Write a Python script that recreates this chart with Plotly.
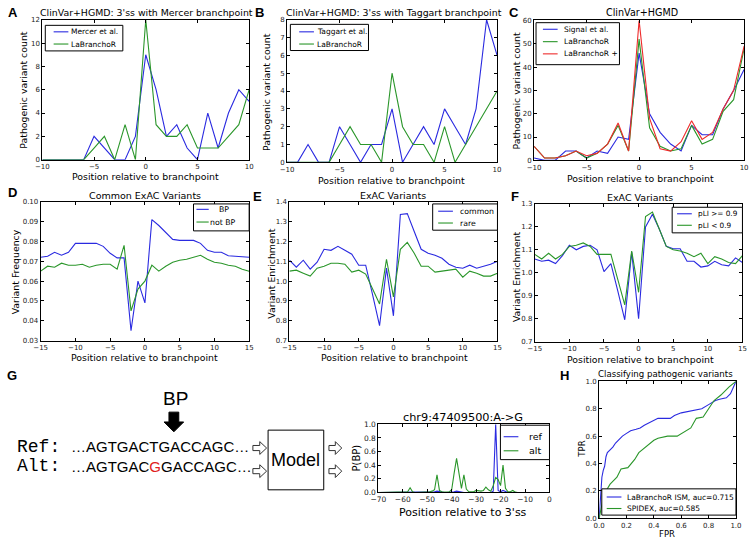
import plotly.graph_objects as go

W, H = 756, 544
BLUE = '#2a2ae0'
GREEN = '#2a962a'
RED = '#ee2b2b'
FONT = 'DejaVu Sans'
SANS = 'Liberation Sans'
MONO = 'Liberation Mono'

# ---------------- data ----------------
pos_10 = [-10, -9, -8, -7, -6, -5, -4, -3, -2, -1, 0, 1, 2, 3, 4, 5, 6, 7, 8, 9, 10]
a_mercer = [0, 0, 0, 0, 0, 2, 1, 0, 0, 2, 9, 6, 2, 3, 1, 0, 4, 1, 4, 6, 5]
a_labranchor = [0, 0, 0, 0, 0, 1, 2, 0, 3, 0, 12, 3, 2, 2, 3, 1, 1, 1, 2, 3, 6]
b_taggart = [0, 0, 1, 0, 0, 2, 1, 0, 1, 1, 3, 0, 1, 2, 1, 3, 2, 1, 3, 8, 6]
b_labranchor = [0, 0, 0, 0, 0, 1, 2, 1, 1, 0, 5, 2, 1, 1, 0, 2, 0, 1, 2, 3, 4]
c_signal = [1, 0, 0, 4, 4, 1, 4, 3, 10, 9, 46, 20, 12, 7, 4, 15, 11, 11, 22, 30, 39]
c_labranchor = [6, 1, 1, 2, 4, 1, 3, 7, 15, 4, 52, 14, 6, 4, 5, 15, 7, 9, 21, 26, 48]
c_labranchor_plus = [6, 1, 1, 2, 4, 2, 3, 7, 16, 4, 60, 18, 5, 4, 8, 17, 9, 12, 22, 30, 49]

pos_15 = [-15, -14, -13, -12, -11, -10, -9, -8, -7, -6, -5, -4, -3, -2, -1, 0,
          1, 2, 3, 4, 5, 6, 7, 8, 9, 10, 11, 12, 13, 14, 15]
d_bp = [0.072, 0.0725, 0.0745, 0.073, 0.0745, 0.079, 0.079, 0.079, 0.079, 0.0775,
        0.074, 0.0717, 0.0717, 0.035, 0.060, 0.049, 0.091, 0.088, 0.0845, 0.081,
        0.0805, 0.0805, 0.0805, 0.079, 0.0755, 0.0745, 0.0745, 0.0728, 0.0725, 0.072, 0.072]
d_not_bp = [0.065, 0.0675, 0.067, 0.069, 0.068, 0.068, 0.0685, 0.067, 0.068, 0.0685,
            0.0685, 0.066, 0.078, 0.045, 0.056, 0.060, 0.068, 0.065, 0.0675, 0.0695,
            0.0705, 0.071, 0.072, 0.073, 0.071, 0.0695, 0.069, 0.068, 0.0675, 0.066, 0.065]
e_common = [1.105, 1.07, 1.105, 1.06, 1.095, 1.16, 1.155, 1.175, 1.155, 1.135,
            1.08, 1.08, 0.93, 0.775, 1.065, 0.825, 1.335, 1.34, 1.25, 1.16,
            1.14, 1.13, 1.115, 1.085, 1.07, 1.065, 1.08, 1.065, 1.075, 1.085, 1.10]
e_rare = [1.05, 1.055, 1.04, 1.025, 1.065, 1.075, 1.09, 1.09, 1.085, 1.045,
          1.055, 1.035, 0.96, 0.885, 1.11, 0.92, 1.16, 1.195, 1.14, 1.075,
          1.075, 1.045, 1.05, 1.055, 1.06, 1.02, 1.05, 1.04, 1.025, 1.025, 1.04]
f_pli_high = [1.06, 1.05, 1.055, 1.04, 1.075, 1.12, 1.10, 1.115, 1.12, 1.10,
              1.005, 1.04, 0.92, 0.795, 1.09, 0.80, 1.20, 1.255, 1.19, 1.115,
              1.105, 1.105, 1.05, 1.05, 1.025, 1.03, 1.05, 1.035, 1.03, 1.065, 1.045]
f_pli_low = [1.08, 1.06, 1.085, 1.06, 1.08, 1.115, 1.12, 1.13, 1.115, 1.08,
             1.08, 1.08, 0.97, 0.86, 1.095, 0.915, 1.245, 1.265, 1.19, 1.115,
             1.10, 1.095, 1.085, 1.07, 1.085, 1.04, 1.07, 1.06, 1.045, 1.04, 1.075]

pos_3ss = [-70, -69, -68, -67, -66, -65, -64, -63, -62, -61, -60, -59, -58, -57, -56, -55,
           -54, -53, -52, -51, -50, -49, -48, -47, -46, -45, -44, -43, -42, -41, -40, -39,
           -38, -37, -36, -35, -34, -33, -32, -31, -30, -29, -28, -27, -26, -25, -24, -23,
           -22, -21, -20, -19, -18, -17, -16, -15, -14, -13, -12, -11, -10, -9, -8, -7,
           -6, -5, -4, -3, -2, -1, 0]
g_ref = [0, 0, 0, 0, 0, 0, 0, 0, 0, 0, 0, 0, 0, 0, 0, 0,
         0, 0, 0, 0, 0, 0, 0, 0.01, 0.02, 0.01, 0, 0, 0, 0, 0, 0.01,
         0.02, 0.01, 0, 0, 0, 0, 0, 0, 0.01, 0, 0, 0, 0.01, 0, 0, 0.02,
         1.0, 0.03, 0.01, 0.03, 0.01, 0, 0, 0, 0, 0, 0, 0, 0, 0, 0, 0,
         0, 0, 0, 0, 0, 0, 0]
g_alt = [0, 0, 0, 0, 0, 0, 0, 0, 0, 0, 0, 0, 0.01, 0.07, 0.01, 0,
         0, 0.005, 0, 0, 0.005, 0.01, 0.02, 0.04, 0.26, 0.03, 0.01, 0.005, 0.005, 0.01, 0.04, 0.28,
         0.50, 0.28, 0.06, 0.26, 0.05, 0.01, 0.01, 0.01, 0.03, 0.02, 0.02, 0.03, 0.08, 0.04, 0.02, 0.10,
         0.22, 0.19, 0.10, 0.40, 0.06, 0.01, 0.01, 0.03, 0.005, 0, 0, 0, 0, 0, 0, 0,
         0, 0, 0, 0, 0, 0, 0]

h_ism_fpr = [0, 0.005, 0.01, 0.02, 0.03, 0.04, 0.05, 0.06, 0.08, 0.10, 0.12, 0.15, 0.17, 0.20,
             0.23, 0.27, 0.30, 0.33, 0.37, 0.40, 0.43, 0.52, 0.55, 0.60, 0.65, 0.70, 0.75,
             0.80, 0.85, 0.88, 0.93, 0.96, 0.98, 1.0]
h_ism_tpr = [0, 0.08, 0.2, 0.3, 0.35, 0.38, 0.45, 0.48, 0.50, 0.52, 0.55, 0.58, 0.60, 0.62,
             0.64, 0.65, 0.66, 0.68, 0.70, 0.71, 0.73, 0.73, 0.75, 0.77, 0.78, 0.79, 0.80,
             0.83, 0.86, 0.87, 0.88, 0.91, 0.95, 1.0]
h_spidex_fpr = [0, 0.01, 0.03, 0.05, 0.08, 0.13, 0.16, 0.21, 0.26, 0.29, 0.35, 0.40, 0.43,
                0.50, 0.57, 0.62, 0.67, 0.71, 0.76, 0.80, 0.84, 0.89, 0.95, 1.0]
h_spidex_tpr = [0, 0.05, 0.15, 0.2, 0.25, 0.30, 0.36, 0.37, 0.43, 0.48, 0.53, 0.57, 0.585,
                0.60, 0.60, 0.63, 0.66, 0.73, 0.74, 0.80, 0.86, 0.90, 0.96, 1.0]

# ---------------- helpers ----------------
def fx(p):
    return p / W


def fy(p):
    return 1 - p / H


fig = go.Figure()
shapes = []
annotations = []

common_axis = dict(showline=True, linecolor='black', linewidth=1, mirror='ticks',
                   ticks='inside', ticklen=3, tickcolor='black', tickwidth=1,
                   showgrid=False, zeroline=False, ticklabeloverflow='allow')


def add_axes(n, xpx, ypx, xr, xt, yr, yt, xfmt=None, yfmt=None, tsize=7):
    sx = '' if n == 1 else str(n)
    tf = dict(family=FONT, size=tsize, color='#222')
    xa = dict(common_axis, domain=[fx(xpx[0]), fx(xpx[1])], range=xr, tickvals=xt,
              anchor='y' + sx, tickfont=tf)
    ya = dict(common_axis, domain=[fy(ypx[1]), fy(ypx[0])], range=yr, tickvals=yt,
              anchor='x' + sx, tickfont=tf)
    if xfmt:
        xa['tickformat'] = xfmt
    if yfmt:
        ya['tickformat'] = yfmt
    fig.update_layout(**{'xaxis' + sx: xa, 'yaxis' + sx: ya})


def line(n, x, y, color, name):
    sx = '' if n == 1 else str(n)
    fig.add_trace(go.Scatter(x=x, y=y, mode='lines', name=name, showlegend=False,
                             line=dict(color=color, width=1.1),
                             xaxis='x' + sx, yaxis='y' + sx))


def text(t, x, y, size, family=FONT, xanchor='center', angle=0, bold=False, color='black'):
    if bold:
        t = '<b>' + t + '</b>'
    annotations.append(dict(text=t, x=fx(x), y=fy(y), xref='paper', yref='paper',
                            showarrow=False, xanchor=xanchor, yanchor='middle',
                            textangle=angle, font=dict(family=family, size=size, color=color)))


def legend(box, entries, size, lx, tx):
    x0, y0, x1, y1 = box
    shapes.append(dict(type='rect', xref='paper', yref='paper', x0=fx(x0), x1=fx(x1),
                       y0=fy(y1), y1=fy(y0), line=dict(color='black', width=1),
                       fillcolor='white', layer='above'))
    for i, (label, color, ly) in enumerate(entries):
        shapes.append(dict(type='line', xref='paper', yref='paper', x0=fx(lx[0]), x1=fx(lx[1]),
                           y0=fy(ly), y1=fy(ly), line=dict(color=color, width=1.1), layer='above'))
        t = tx[i] if isinstance(tx, (list, tuple)) else tx
        text(label, t, ly, size, xanchor='left')


def hollow_arrow(x0, x1, yc, h):
    xm = x0 + (x1 - x0) * 0.5
    s = h * 0.2
    pts = [(x0, yc - s), (xm, yc - s), (xm, yc - h / 2), (x1, yc), (xm, yc + h / 2),
           (xm, yc + s), (x0, yc + s)]
    path = 'M ' + ' L '.join(f'{fx(a):.5f},{fy(b):.5f}' for a, b in pts) + ' Z'
    shapes.append(dict(type='path', xref='paper', yref='paper', path=path,
                       line=dict(color='#333', width=1), fillcolor='white'))


# ---------------- panel A ----------------
add_axes(1, (35, 245.7), (16, 158.3), [-10, 10], [-10, -5, 0, 5, 10], [0, 12], [0, 2, 4, 6, 8, 10, 12])
line(1, pos_10, a_mercer, BLUE, 'Mercer et al.')
line(1, pos_10, a_labranchor, GREEN, 'LaBranchoR')
text("ClinVar+HGMD: 3'ss with Mercer branchpoint", 141, 8.5, 9.4)
text('Position relative to branchpoint', 140, 175.5, 9.4)
text('Pathogenic variant count', 15, 87.5, 9.4, angle=-90)
legend((38, 21.7, 117, 47.7), [('Mercer et al.', BLUE, 28.3), ('LaBranchoR', GREEN, 40.7)],
       7.5, (46.5, 61.5), 62)

# ---------------- panel B ----------------
add_axes(2, (284.3, 498.3), (16, 161), [-10, 10], [-10, -5, 0, 5, 10], [0, 8], [0, 1, 2, 3, 4, 5, 6, 7, 8])
line(2, pos_10, b_taggart, BLUE, 'Taggart et al.')
line(2, pos_10, b_labranchor, GREEN, 'LaBranchoR')
text("ClinVar+HGMD: 3'ss with Taggart branchpoint", 393, 8.5, 9.4)
text('Position relative to branchpoint', 391, 179.3, 9.4)
text('Pathogenic variant count', 263.3, 89, 9.4, angle=-90)
legend((287.7, 20.7, 367.3, 47.3), [('Taggart et al.', BLUE, 28.3), ('LaBranchoR', GREEN, 40.7)],
       7.5, (296.7, 311.7), 312.5)

# ---------------- panel C ----------------
add_axes(3, (536, 750), (16.7, 159), [-10, 10], [-10, -5, 0, 5, 10], [0, 60], [0, 10, 20, 30, 40, 50, 60])
line(3, pos_10, c_signal, BLUE, 'Signal et al.')
line(3, pos_10, c_labranchor, GREEN, 'LaBranchoR')
line(3, pos_10, c_labranchor_plus, RED, 'LaBranchoR +')
text('ClinVar+HGMD', 646, 8.8, 9.6)
text('Position relative to branchpoint', 644, 177, 9.4)
text('Pathogenic variant count', 518.3, 88.3, 9.4, angle=-90)
legend((538, 19, 623, 61.7), [('Signal et al.', BLUE, 25.7), ('LaBranchoR', GREEN, 38.3),
                              ('LaBranchoR +', RED, 50.7)], 7.5, (545, 560), 564)

# ---------------- panel D ----------------
add_axes(4, (33.3, 245.7), (201, 342.3), [-15, 15], [-15, -10, -5, 0, 5, 10, 15], [0.03, 0.10],
         [0.03, 0.04, 0.05, 0.06, 0.07, 0.08, 0.09, 0.10], yfmt='.2f')
line(4, pos_15, d_bp, BLUE, 'BP')
line(4, pos_15, d_not_bp, GREEN, 'not BP')
text('Common ExAC Variants', 140, 195, 9.5)
text('Position relative to branchpoint', 139, 359, 9.4)
text('Variant Frequency', 8.5, 272.5, 9.4, angle=-90)
legend((189, 203.3, 245.7, 230.7), [('BP', BLUE, 208.8), ('not BP', GREEN, 221.7)],
       7.8, (192, 204.5), [212.5, 203.5])

# ---------------- panel E ----------------
add_axes(5, (286.7, 498.7), (201, 342.3), [-15, 15], [-15, -10, -5, 0, 5, 10, 15], [0.7, 1.4],
         [0.7, 0.8, 0.9, 1.0, 1.1, 1.2, 1.3, 1.4], yfmt='.1f')
line(5, pos_15, e_common, BLUE, 'common')
line(5, pos_15, e_rare, GREEN, 'rare')
text('ExAC Variants', 392, 195, 9.5)
text('Position relative to branchpoint', 394, 359.5, 9.4)
text('Variant Enrichment', 268.3, 274, 9.4, angle=-90)
legend((432.7, 203.3, 498.7, 230), [('common', BLUE, 210.7), ('rare', GREEN, 222.7)],
       7.8, (438.3, 453.3), 458.3)

# ---------------- panel F ----------------
add_axes(6, (536.7, 748.3), (203.3, 343.3), [-15, 15], [-15, -10, -5, 0, 5, 10, 15], [0.7, 1.3],
         [0.7, 0.8, 0.9, 1.0, 1.1, 1.2, 1.3], yfmt='.1f')
line(6, pos_15, f_pli_high, BLUE, 'pLI >= 0.9')
line(6, pos_15, f_pli_low, GREEN, 'pLI < 0.9')
text('ExAC Variants', 644, 196.7, 9.5)
text('Position relative to branchpoint', 644, 361, 9.4)
text('Variant Enrichment', 518.3, 278, 9.4, angle=-90)
legend((676.7, 206.7, 748.3, 232.7), [('pLI &gt;= 0.9', BLUE, 213.3), ('pLI &lt; 0.9', GREEN, 225)],
       7.3, (681.7, 696.7), 700.5)

# ---------------- panel G (plot) ----------------
add_axes(7, (377.3, 551.7), (427.3, 496.7), [-70, 0], [-70, -60, -50, -40, -30, -20, -10, 0], [0, 1],
         [0, 0.2, 0.4, 0.6, 0.8, 1.0], yfmt='.1f', tsize=7.5)
line(7, pos_3ss, g_ref, BLUE, 'ref')
line(7, pos_3ss, g_alt, GREEN, 'alt')
text('chr9:47409500:A-&gt;G', 464, 420, 11.3)
text("Position relative to 3'ss", 464, 517, 11)
text('P(BP)', 355, 461.7, 10, angle=-90)
legend((501.7, 428.3, 551.7, 463.3), [('ref', BLUE, 440), ('alt', GREEN, 454.3)],
       9.5, (505, 520), 529)

# ---------------- panel H ----------------
add_axes(8, (602.3, 741.7), (383.7, 523), [0, 1], [0, 0.2, 0.4, 0.6, 0.8, 1.0], [0, 1],
         [0, 0.2, 0.4, 0.6, 0.8, 1.0], xfmt='.1f', yfmt='.1f')
line(8, h_ism_fpr, h_ism_tpr, BLUE, 'LaBranchoR ISM, auc=0.715')
line(8, h_spidex_fpr, h_spidex_tpr, GREEN, 'SPIDEX, auc=0.585')
text('Classifying pathogenic variants', 670, 376.7, 8.6)
text('FPR', 671, 539, 8.5)
text('TPR', 584, 453, 8.5, angle=-90)
legend((605, 493, 741.7, 519.7), [('LaBranchoR ISM, auc=0.715', BLUE, 501.3),
                                  ('SPIDEX, auc=0.585', GREEN, 513)], 7.5, (610, 625), 629)

# ---------------- schematic in G ----------------
text('BP', 170.5, 401.5, 19, family=SANS)
arrow_pts = [(164, 415), (174, 415), (174, 425), (179, 425), (169, 435), (159, 425), (164, 425)]
shapes.append(dict(type='path', xref='paper', yref='paper',
                   path='M ' + ' L '.join(f'{fx(a):.5f},{fy(b):.5f}' for a, b in arrow_pts) + ' Z',
                   fillcolor='black', line=dict(color='black', width=1)))
text('Ref:', 7, 450, 18, family=MONO, xanchor='left')
text('Alt:', 7, 470, 18, family=MONO, xanchor='left')
text('…AGTGACTGACCAGC…', 62, 450, 15, family=SANS, xanchor='left')
text('…AGTGAC<span style="color:#e02020">G</span>GACCAGC…', 62, 470, 15, family=SANS, xanchor='left')
hollow_arrow(249.5, 263.5, 451.5, 13)
hollow_arrow(249.5, 263.5, 475, 13)
hollow_arrow(327, 340, 451.5, 13)
hollow_arrow(327, 340, 475, 13)
shapes.append(dict(type='rect', xref='paper', yref='paper', x0=fx(265), x1=fx(321.7),
                   y0=fy(494), y1=fy(433.3), line=dict(color='black', width=1)))
text('Model', 293.3, 463.7, 18, family=SANS)

# ---------------- panel letters ----------------
for letter, x, y in [('A', 5.5, 8.3), ('B', 256, 8.3), ('C', 516, 8.3), ('D', 5, 191.7),
                     ('E', 254.5, 196), ('F', 517, 196), ('G', 4.5, 377.5), ('H', 566.7, 378)]:
    text(letter, x, y, 13, family=SANS, bold=True)

fig.update_layout(width=W, height=H, autosize=False, margin=dict(l=0, r=0, t=0, b=0),
                  paper_bgcolor='white', plot_bgcolor='white', showlegend=False,
                  shapes=shapes, annotations=annotations, font=dict(family=FONT))

fig.write_html('out.html', config={'displayModeBar': False},
               post_script="document.body.style.margin='0px';")
